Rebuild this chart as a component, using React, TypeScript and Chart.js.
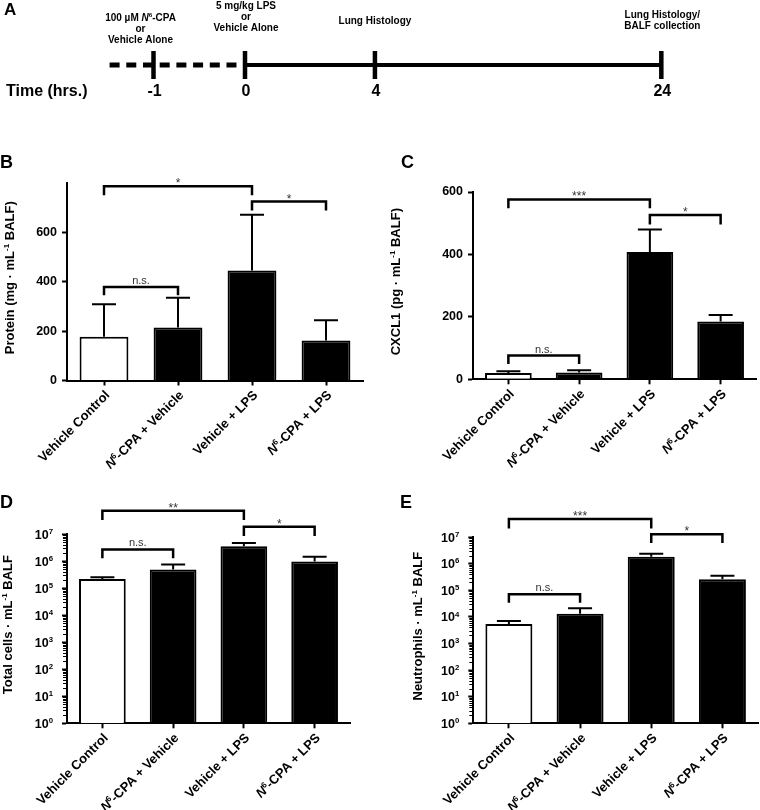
import React, { useEffect, useRef } from 'react';
import { Chart, registerables } from 'chart.js';

Chart.register(...registerables);

// ---------------- data ----------------
const groupLabels = [
  'Vehicle Control',
  '<i>N</i><sup>6</sup>-CPA + Vehicle',
  'Vehicle + LPS',
  '<i>N</i><sup>6</sup>-CPA + LPS',
];

const proteinMean = [177, 215, 446, 162];
const proteinSD = [132, 120, 225, 82];
const proteinTicks = [0, 200, 400, 600];

const cxcl1Mean = [20, 22, 408, 185];
const cxcl1SD = [6, 7, 72, 21];
const cxcl1Ticks = [0, 200, 400, 600];

const totalCellsMean = [2.16e5, 4.9e5, 3.5e6, 9.7e5];
const totalCellsSD = [0.34e5, 2.6e5, 1.1e6, 4.7e5];

const neutrophilMean = [5.4e3, 1.3e4, 1.8e6, 2.6e5];
const neutrophilSD = [1.6e3, 0.8e4, 0.57e6, 0.9e5];

const logTicks = [1, 10, 100, 1e3, 1e4, 1e5, 1e6, 1e7];

// significance brackets: [from group, to group, bracket level, leg end level, label]
type Bracket = [number, number, number, number, string];
const proteinSig: Bracket[] = [
  [0, 2, 787, 750, '*'],
  [2, 3, 725, 689, '*'],
  [0, 1, 379, 345, 'n.s.'],
];
const cxcl1Sig: Bracket[] = [
  [0, 2, 576, 548, '***'],
  [2, 3, 526, 496, '*'],
  [0, 1, 76, 49, 'n.s.'],
];
const totalCellsSig: Bracket[] = [
  [0, 2, 7.2e7, 3.3e7, '**'],
  [2, 3, 1.85e7, 8.4e6, '*'],
  [0, 1, 2.7e6, 1.26e6, 'n.s.'],
];
const neutrophilSig: Bracket[] = [
  [0, 2, 4.7e7, 2.1e7, '***'],
  [2, 3, 1.27e7, 5.9e6, '*'],
  [0, 1, 7.1e4, 3.4e4, 'n.s.'],
];

// timeline (schematic, not to scale)
const timelineHours = ['-1', '0', '4', '24'];
const timelineAxisPos = [1, 2, 3.42, 6.55];
const timelineStartPos = 0.52;
const timelineEvents = [
  ['100 µM <i>N</i><sup>6</sup>-CPA', 'or', 'Vehicle Alone'],
  ['5 mg/kg LPS', 'or', 'Vehicle Alone'],
  ['Lung Histology'],
  ['Lung Histology/', 'BALF collection'],
];

// ---------------- styles / layout ----------------
const FONT = "'Liberation Sans', Arial, Helvetica, sans-serif";
const eventLabelDx = [-13, 1, 0, 1];
const eventLabelTop = [17, 5, 20, 14];

type Seg = { t: string; k: 'n' | 'i' | 'sup' };
function parseRich(s: string): Seg[] {
  const out: Seg[] = [];
  const re = /<(i|sup)>(.*?)<\/\1>/g;
  let last = 0;
  let m: RegExpExecArray | null;
  while ((m = re.exec(s))) {
    if (m.index > last) out.push({ t: s.slice(last, m.index), k: 'n' });
    out.push({ t: m[2], k: m[1] === 'i' ? 'i' : 'sup' });
    last = re.lastIndex;
  }
  if (last < s.length) out.push({ t: s.slice(last), k: 'n' });
  return out;
}
function stripTags(s: string) {
  return s.replace(/<[^>]+>/g, '');
}
function fontFor(k: string, size: number, weight: string) {
  const style = k === 'i' ? 'italic ' : '';
  const sz = k === 'sup' ? size * 0.62 : size;
  return `${style}${weight} ${sz}px ${FONT}`;
}
function drawRich(
  ctx: CanvasRenderingContext2D,
  text: string,
  x: number,
  y: number,
  size: number,
  align: 'left' | 'center' | 'right',
  weight = 'bold'
) {
  const segs = parseRich(text);
  const widths = segs.map((s) => {
    ctx.font = fontFor(s.k, size, weight);
    return ctx.measureText(s.t).width;
  });
  const total = widths.reduce((a, b) => a + b, 0);
  let cx = align === 'right' ? x - total : align === 'center' ? x - total / 2 : x;
  ctx.textAlign = 'left';
  ctx.textBaseline = 'alphabetic';
  segs.forEach((s, i) => {
    ctx.font = fontFor(s.k, size, weight);
    ctx.fillText(s.t, cx, s.k === 'sup' ? y - size * 0.38 : y);
    cx += widths[i];
  });
}

interface Panel {
  letter: string;
  mean: number[];
  sd: number[];
  log: boolean;
  yMax: number;
  yTicks: number[];
  title: string;
  sig: Bracket[];
  left: number;
  top: number;
  width: number;
  height: number;
  yWidth: number;
  xHeight: number;
  padTop: number;
  padRight: number;
  titleX: number;
  letterX: number;
  letterBase: number;
}

const panels: Panel[] = [
  {
    letter: 'B', mean: proteinMean, sd: proteinSD, log: false, yMax: 800, yTicks: proteinTicks,
    title: 'Protein (mg · mL<sup>-1</sup> BALF)', sig: proteinSig,
    left: 0, top: 140, width: 380, height: 340, yWidth: 67, xHeight: 99.5, padTop: 43, padRight: 17,
    titleX: 9.5, letterX: 0, letterBase: 28,
  },
  {
    letter: 'C', mean: cxcl1Mean, sd: cxcl1SD, log: false, yMax: 600, yTicks: cxcl1Ticks,
    title: 'CXCL1 (pg · mL<sup>-1</sup> BALF)', sig: cxcl1Sig,
    left: 380, top: 140, width: 380, height: 340, yWidth: 93, xHeight: 100.7, padTop: 52, padRight: 4,
    titleX: 15, letterX: 21, letterBase: 28,
  },
  {
    letter: 'D', mean: totalCellsMean, sd: totalCellsSD, log: true, yMax: 1e7, yTicks: logTicks,
    title: 'Total cells · mL<sup>-1</sup> BALF', sig: totalCellsSig,
    left: 0, top: 480, width: 380, height: 330, yWidth: 67, xHeight: 86.7, padTop: 54, padRight: 30,
    titleX: 7.5, letterX: 0, letterBase: 28,
  },
  {
    letter: 'E', mean: neutrophilMean, sd: neutrophilSD, log: true, yMax: 1e7, yTicks: logTicks,
    title: 'Neutrophils · mL<sup>-1</sup> BALF', sig: neutrophilSig,
    left: 380, top: 480, width: 380, height: 330, yWidth: 93.3, xHeight: 86.7, padTop: 57, padRight: 2,
    titleX: 37.7, letterX: 20, letterBase: 28,
  },
];

function buildPanel(canvas: HTMLCanvasElement, p: Panel) {
  const decor = {
    id: 'decor' + p.letter,
    afterDatasetsDraw(chart: any) {
      const ctx = chart.ctx as CanvasRenderingContext2D;
      const ys = chart.scales.y;
      const meta = chart.getDatasetMeta(0);
      ctx.save();
      ctx.strokeStyle = '#000';
      ctx.lineWidth = 2;
      ctx.lineCap = 'butt';
      meta.data.forEach((bar: any, i: number) => {
        const x = bar.x;
        const yb = bar.y;
        const yt = ys.getPixelForValue(p.mean[i] + p.sd[i]);
        ctx.beginPath();
        ctx.moveTo(x, yb);
        ctx.lineTo(x, yt);
        ctx.moveTo(x - 12, yt);
        ctx.lineTo(x + 12, yt);
        ctx.stroke();
      });
      ctx.restore();
    },
    afterDraw(chart: any) {
      const ctx = chart.ctx as CanvasRenderingContext2D;
      const area = chart.chartArea;
      const xs = chart.scales.x;
      const ys = chart.scales.y;
      ctx.save();
      ctx.fillStyle = '#000';
      ctx.strokeStyle = '#000';
      if (p.log) {
        ctx.lineWidth = 1;
        for (let e = 0; e < 7; e++) {
          for (let k = 2; k <= 9; k++) {
            const y = Math.round(ys.getPixelForValue(k * Math.pow(10, e))) + 0.5;
            ctx.beginPath();
            ctx.moveTo(area.left - 4, y);
            ctx.lineTo(area.left, y);
            ctx.stroke();
          }
        }
        p.yTicks.forEach((v) => {
          const y = ys.getPixelForValue(v);
          const exp = Math.round(Math.log10(v));
          drawRich(ctx, `10<sup>${exp}</sup>`, area.left - 14, y + 0.36 * 12.5, 12.5, 'right', 'bold');
        });
      }
      // significance brackets
      p.sig.forEach(([a, b, top, leg, label]) => {
        const xa = xs.getPixelForValue(a);
        const xb = xs.getPixelForValue(b);
        const yt = ys.getPixelForValue(top);
        const yl = ys.getPixelForValue(leg);
        ctx.strokeStyle = '#000';
        ctx.lineWidth = 2.5;
        ctx.lineJoin = 'miter';
        ctx.beginPath();
        ctx.moveTo(xa, yl);
        ctx.lineTo(xa, yt);
        ctx.lineTo(xb, yt);
        ctx.lineTo(xb, yl);
        ctx.stroke();
        ctx.fillStyle = '#333';
        ctx.textAlign = 'center';
        ctx.textBaseline = 'alphabetic';
        if (label === 'n.s.') {
          ctx.font = `11px ${FONT}`;
          ctx.fillText(label, (xa + xb) / 2, yt - 3);
        } else {
          ctx.font = `12px ${FONT}`;
          ctx.fillText(label, (xa + xb) / 2, yt + 1);
        }
      });
      ctx.fillStyle = '#000';
      // rotated category labels
      groupLabels.forEach((lab, i) => {
        const x = xs.getPixelForValue(i);
        ctx.save();
        ctx.translate(x + 3, area.bottom + 12);
        ctx.rotate(-Math.PI / 4);
        drawRich(ctx, lab, 0, 0.36 * 13, 13, 'right', 'bold');
        ctx.restore();
      });
      // y title
      ctx.save();
      ctx.translate(p.titleX, (area.top + area.bottom) / 2 - 4);
      ctx.rotate(-Math.PI / 2);
      drawRich(ctx, p.title, 0, 0.36 * 13, 13, 'center', 'bold');
      ctx.restore();
      // panel letter
      ctx.font = `bold 18px ${FONT}`;
      ctx.textAlign = 'left';
      ctx.textBaseline = 'alphabetic';
      ctx.fillText(p.letter, p.letterX, p.letterBase);
      ctx.restore();
    },
  };

  return new Chart(canvas, {
    type: 'bar',
    data: {
      labels: groupLabels.map(stripTags),
      datasets: [
        {
          data: p.mean,
          backgroundColor: ['#ffffff', '#000000', '#000000', '#000000'],
          borderColor: '#000000',
          borderWidth: 2,
          barPercentage: 0.66,
          categoryPercentage: 1,
        },
      ],
    },
    options: {
      responsive: false,
      animation: false,
      devicePixelRatio: 1,
      events: [],
      layout: { padding: { left: 0, top: p.padTop, right: p.padRight, bottom: 0 } },
      plugins: { legend: { display: false }, tooltip: { enabled: false } },
      scales: {
        x: {
          type: 'category',
          offset: true,
          grid: { display: true, drawOnChartArea: false, offset: false, tickLength: 5, tickWidth: 2, tickColor: '#000' },
          border: { display: true, color: '#000', width: 2 },
          ticks: { display: false },
          afterFit: (s: any) => {
            s.height = p.xHeight;
          },
        },
        y: {
          type: p.log ? 'logarithmic' : 'linear',
          min: p.log ? 1 : 0,
          max: p.yMax,
          afterBuildTicks: (s: any) => {
            s.ticks = p.yTicks.map((v) => ({ value: v }));
          },
          ticks: {
            display: !p.log,
            font: { family: FONT, size: 12.5, weight: 'bold' },
            color: '#000',
            padding: 5,
          },
          grid: { display: true, drawOnChartArea: false, tickLength: 5, tickWidth: 2, tickColor: '#000' },
          border: { display: true, color: '#000', width: 2 },
          afterFit: (s: any) => {
            s.width = p.yWidth;
          },
        },
      },
    } as any,
    plugins: [decor],
  });
}

function buildTimeline(canvas: HTMLCanvasElement) {
  const decor = {
    id: 'timelineText',
    afterDraw(chart: any) {
      const ctx = chart.ctx as CanvasRenderingContext2D;
      const xs = chart.scales.x;
      ctx.save();
      ctx.fillStyle = '#000';
      timelineHours.forEach((h, i) => {
        const px = xs.getPixelForValue(timelineAxisPos[i]);
        ctx.font = `bold 16px ${FONT}`;
        ctx.textAlign = 'center';
        ctx.textBaseline = 'alphabetic';
        ctx.fillText(h, px + 1, 90 + 0.36 * 16);
        timelineEvents[i].forEach((line, j) => {
          drawRich(ctx, line, px + eventLabelDx[i], eventLabelTop[i] + j * 11.3 + 3.6, 10, 'center', 'bold');
        });
      });
      ctx.font = `bold 16px ${FONT}`;
      ctx.textAlign = 'left';
      ctx.textBaseline = 'alphabetic';
      ctx.fillText('Time (hrs.)', 6, 90 + 0.36 * 16);
      ctx.font = `bold 17px ${FONT}`;
      ctx.fillText('A', 4, 15);
      ctx.restore();
    },
  };
  return new Chart(canvas, {
    type: 'scatter',
    data: {
      datasets: [
        {
          type: 'line',
          data: [
            { x: timelineStartPos, y: 0 },
            { x: timelineAxisPos[1], y: 0 },
          ],
          borderColor: '#000',
          borderWidth: 5,
          borderDash: [10, 6.7],
          borderCapStyle: 'butt',
          pointRadius: 0,
          fill: false,
        },
        {
          type: 'line',
          data: [
            { x: timelineAxisPos[1], y: 0 },
            { x: timelineAxisPos[3], y: 0 },
          ],
          borderColor: '#000',
          borderWidth: 4,
          borderCapStyle: 'butt',
          pointRadius: 0,
          fill: false,
        },
        {
          type: 'scatter',
          data: timelineAxisPos.map((x) => ({ x, y: 0 })),
          pointStyle: 'line',
          rotation: 90,
          radius: 14,
          borderWidth: 4.5,
          borderColor: '#000',
          backgroundColor: '#000',
        },
      ],
    } as any,
    options: {
      responsive: false,
      animation: false,
      devicePixelRatio: 1,
      events: [],
      layout: { padding: { left: 62, right: 57.5, top: 0, bottom: 4.5 } },
      plugins: { legend: { display: false }, tooltip: { enabled: false } },
      scales: {
        x: { type: 'linear', min: 0, max: 7, display: false },
        y: { type: 'linear', min: -1, max: 1, display: false },
      },
    } as any,
    plugins: [decor],
  });
}

export default function App() {
  const aRef = useRef<HTMLCanvasElement>(null);
  const r0 = useRef<HTMLCanvasElement>(null);
  const r1 = useRef<HTMLCanvasElement>(null);
  const r2 = useRef<HTMLCanvasElement>(null);
  const r3 = useRef<HTMLCanvasElement>(null);
  const refs = [r0, r1, r2, r3];

  useEffect(() => {
    document.body.style.margin = '0';
    const charts: Chart[] = [];
    if (aRef.current) charts.push(buildTimeline(aRef.current));
    panels.forEach((p, i) => {
      const c = refs[i].current;
      if (c) charts.push(buildPanel(c, p));
    });
    return () => charts.forEach((c) => c.destroy());
  }, []);

  return (
    <div style={{ position: 'relative', width: 760, height: 810, background: '#fff', overflow: 'hidden' }}>
      <canvas
        ref={aRef}
        width={760}
        height={130}
        style={{ position: 'absolute', left: 0, top: 0, width: 760, height: 130 }}
      />
      {panels.map((p, i) => (
        <canvas
          key={p.letter}
          ref={refs[i]}
          width={p.width}
          height={p.height}
          style={{ position: 'absolute', left: p.left, top: p.top, width: p.width, height: p.height }}
        />
      ))}
    </div>
  );
}
